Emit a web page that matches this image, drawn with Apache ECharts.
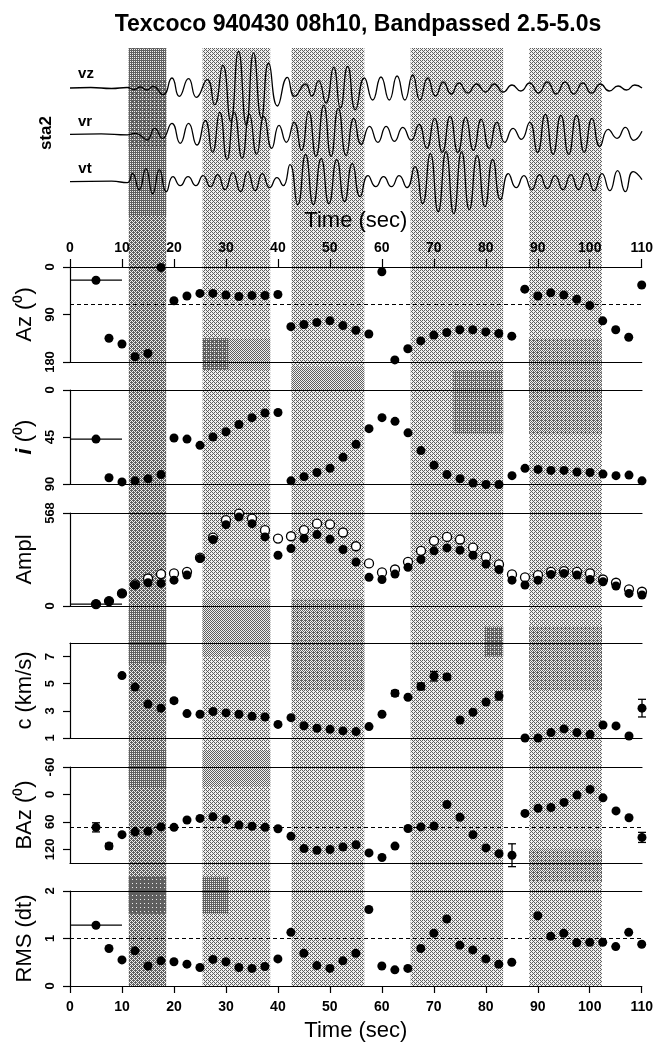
<!DOCTYPE html>
<html>
<head>
<meta charset="utf-8">
<script src="https://cdn.jsdelivr.net/npm/echarts@6/dist/echarts.min.js"></script>
<style>
  html, body { margin: 0; padding: 0; background: #fff; }
  #chart { width: 656px; height: 1046px; }
</style>
</head>
<body>
<div id="chart"></div>
<script>
// Sample times (s) of the particle-motion windows
const TIMES = [5, 7.5, 10, 12.5, 15, 17.5, 20, 22.5, 25, 27.5, 30, 32.5, 35, 37.5, 40, 42.5, 45, 47.5, 50, 52.5,
  55, 57.5, 60, 62.5, 65, 67.5, 70, 72.5, 75, 77.5, 80, 82.5, 85, 87.5, 90, 92.5, 95, 97.5, 100, 102.5, 105, 107.5, 110];

// Azimuth (deg)
const azValues = [25, 135, 146, 170, 164, 1, 64, 55, 50, 50, 53, 56, 54, 54, 52, 113, 109, 105, 102, 111,
  120, 127, 9, 176, 155, 140, 129, 124, 119, 119, 123, 126, 131, 42, 55, 49, 53, 61, 73, 102, 119, 133, 34];
// Incidence angle (deg)
const incValues = [47, 84, 88, 87, 85, 81, 46, 47, 53, 45, 40, 33, 26.5, 22, 21.5, 87, 83, 79, 75, 64.5,
  52, 37, 26.5, 30, 41, 58, 72, 81, 85, 89, 90.5, 90.5, 82, 75, 76, 77, 77, 78.5, 79, 80.5, 82, 81.5, 87];
// Amplitude: filled = measured, open = total
const amplFilled = [12, 30, 77, 128, 142, 138, 158, 189, 290, 406, 497, 544, 503, 422, 310, 351, 412, 436, 408, 345,
  268, 175, 162, 195, 236, 284, 337, 355, 341, 310, 256, 223, 158, 128, 158, 193, 199, 189, 162, 148, 122, 77, 67];
const amplOpen = [12, 30, 77, 132, 168, 195, 199, 209, 295, 418, 524, 564, 534, 463, 412, 426, 463, 503, 499, 449,
  365, 260, 205, 223, 270, 337, 398, 422, 406, 357, 300, 254, 193, 175, 189, 209, 213, 209, 199, 162, 142, 102, 87];
// Apparent velocity (km/s) and its uncertainty
const cValues = [null, null, 5.6, 4.75, 3.5, 3.2, 3.75, 2.8, 2.75, 2.95, 2.85, 2.75, 2.6, 2.55, 2.0, 2.5, 1.9, 1.72, 1.64, 1.52,
  1.47, 1.84, 2.75, 4.3, 4.0, 4.8, 5.55, 5.5, 2.33, 2.9, 3.65, 4.1, null, 1.0, 1.0, 1.4, 1.67, 1.4, 1.27, 1.96, 1.89, 1.15, 3.2];
const cErrors = [null, null, 0.12, null, null, null, 0.15, null, null, null, null, null, null, null, null, null, null, null, null, null,
  null, null, null, 0.2, null, 0.25, 0.35, 0.2, null, null, null, 0.3, null, null, null, null, null, null, null, null, null, null, 0.65];
// Back-azimuth (deg) and its uncertainty
const bazValues = [72, 113, 88, 82, 80.5, 71, 72, 56, 52.5, 49, 55, 67, 69.5, 72, 75, 91.5, 118.5, 122, 120.5, 115,
  110, 128, 138, 113, 74.5, 71, 69, 22, 50, 88, 117, 129.5, 133, 41.5, 30.5, 28.5, 17.5, 1.5, -11, 7.5, 36, 51, 94];
const bazErrors = [10, 6, null, null, null, null, null, null, null, null, null, null, null, null, null, null, null, null, null, null,
  null, null, null, null, null, null, null, null, null, null, null, null, 25, null, null, null, null, null, null, null, null, null, 11];
// RMS misfit (dt)
const rmsValues = [1.28, 0.79, 0.55, 0.74, 0.42, 0.53, 0.51, 0.46, 0.39, 0.56, 0.51, 0.39, 0.37, 0.41, 0.57, 1.13, 0.69, 0.43, 0.37, 0.53,
  0.69, 1.61, 0.42, 0.34, 0.37, 0.79, 1.11, 1.41, 0.86, 0.76, 0.57, 0.46, 0.5, null, 1.48, 1.05, 1.11, 0.91, 0.92, 0.92, 0.83, 1.13, 0.88];

// Span of the first (reference) window, seconds
const firstWindow = [0, 10];
// Reference levels
const azRef = 70, bazRef = 72, rmsRef = 1;

// Analysis windows (s) and their grey level
const windows = [[11.3, 18.5], [25.5, 38.5], [42.6, 56.6], [65.5, 83.3], [88.3, 102.3]];
const windowShade = [150, 190, 190, 190, 190];

// Darker spectral patches: [t0, t1, v0, v1, grey] in each panel's own units
const wavePatches = [[11.3, 18.5, 86, -81, 135], [11.3, 18.5, 54, -12, 120]];
const azPatches = [[25.5, 30.5, 135, 195, 118], [30.5, 38.5, 135, 195, 165],
  [42.6, 56.6, 190, 233, 168], [73.7, 83.3, 195, 233, 138], [88.3, 102.3, 135, 233, 160]];
const incPatches = [[73.7, 83.3, 0, 42, 138], [88.3, 102.3, 0, 42, 160]];
const cPatches = [[11.3, 18.5, 6.5, 10.5, 128], [25.5, 38.5, 7, 11.2, 165], [42.6, 56.6, 4.5, 11.2, 158],
  [79.8, 83.3, 7, 9.2, 122], [88.3, 102.3, 4.5, 9.2, 160]];
const bazPatches = [[11.3, 18.5, -97, -16, 128], [25.5, 38.5, -97, -16, 170], [88.3, 102.3, 120, 190, 155]];
const rmsPatches = [[11.3, 18.5, 1.52, 2.3, 100], [25.5, 30.5, 1.52, 2.3, 130]];

// Band-passed seismogram extrema [t, amplitude]
const vzTrace = [[0, 0], [4, 0.5], [8, -0.5], [11, 0.5], [12.3, -1.5], [13.5, 1], [14.8, -2], [16, 1.5], [17.9, -6.7], [19.6, 10],
  [21, -8.3], [22.8, 9.3], [24.3, -9.3], [26.4, 8.3], [27.8, -16.7], [29.4, 22.7], [30.9, -33], [32.4, 36.7], [33.9, -37], [35.3, 35],
  [36.8, -30], [38.2, 25], [39.9, -18], [41.8, 10.7], [43.2, -8.3], [45.3, 4], [46.5, -8], [47.8, 7.3], [49.2, -15], [50.7, 20.7],
  [52, -20], [53.4, 21.7], [54.9, -21.7], [56.6, 10], [58.2, -12], [59.8, 11], [61.4, -12], [62.9, 12], [64.4, -12], [65.9, 13],
  [67.3, -12], [68.8, 10], [70.3, -8], [71.8, 6], [73.3, -6], [74.8, 5], [76.5, -5], [78.2, 4], [79.9, -4], [81.6, 4], [83.3, -4],
  [85, 3], [86.7, -3], [88.4, 5], [90.1, -5], [91.8, 6], [93.5, -6], [95.2, 6], [96.9, -6], [98.6, 5], [100.3, -5], [102, 4],
  [103.7, -3], [105.4, 2], [107, -2], [108.6, 3], [110, 0]];
const vrTrace = [[0, 0], [6, 0.5], [11, -0.5], [12.5, 1], [13.5, -1], [14.8, -5.7], [16.3, 6], [17.8, -4], [19.6, 11], [21.2, -9],
  [22.8, 11], [24.4, -10.7], [26, 14], [27.4, -18], [28.8, 22], [30.2, -25], [31.6, 22], [33.1, -24], [34.5, 20], [35.9, -20],
  [37.3, 18], [38.8, -14], [40.2, 9], [41.6, -8], [43.1, 12], [44.5, -16], [45.9, 23], [47.3, -22], [48.8, 29], [50.2, -22],
  [51.6, 26], [53.1, -21], [54.6, 16], [56, -10], [57.6, 8], [59.2, -8], [60.8, 8], [62.4, -7], [64, 7], [65.6, -6], [67.1, 10],
  [68.6, -14], [70.1, 16], [71.6, -18], [73.1, 18], [74.6, -18], [76.1, 17], [77.6, -16], [79.1, 15], [80.6, -14], [82.1, 12],
  [83.6, -8], [85.2, 6], [86.8, -5], [88.4, 12], [89.9, -18], [91.4, 20], [92.9, -20], [94.4, 19], [95.9, -20], [97.4, 19],
  [98.9, -18], [100.4, 16], [101.9, -12], [103.5, 5], [105.2, -4], [106.8, 7], [108.4, -6], [110, 3]];
const vtTrace = [[0, 0], [8, 0.5], [11, -1], [12, 8], [13.3, -8], [14.6, 13], [15.9, -12], [17.2, 12], [18.5, -10], [19.8, 5],
  [21.2, -4], [22.7, 5], [24.2, -4], [25.6, 6], [27, -5], [28.4, 7], [29.8, -8], [31.3, 9], [32.8, -10], [34.2, 10], [35.6, -9],
  [37, 8], [38.4, -6], [39.8, 4], [41, -4], [42.3, 17], [43.8, -23], [45.3, 27], [46.8, -23], [48.3, 23], [49.8, -22], [51.3, 22],
  [52.8, -20], [54.3, 18], [55.8, -15], [57.3, 6], [58.8, -5], [60.3, 5], [61.8, -5], [63.3, 6], [64.8, -6], [66.3, 15], [67.8, -22],
  [69.3, 28], [70.8, -30], [72.3, 30], [73.8, -32], [75.3, 30], [76.8, -28], [78.3, 26], [79.8, -25], [81.3, 22], [82.8, -18],
  [84.3, 8], [85.8, -6], [87.3, 6], [88.8, -8], [90.3, 7], [91.8, -7], [93.3, 6], [94.8, -8], [96.3, 7], [97.8, -8], [99.3, 8],
  [100.8, -9], [102.3, 8], [103.8, -9], [105.3, 11], [106.8, -10], [108.3, 10], [110, 2]];

const xTicks = [0, 110, 10]; // min, max, step of the time axis

// ---------------------------------------------------------------------------
const FONT = "'Liberation Sans', Arial, Helvetica, sans-serif";
const LEFT = 70, RIGHT = 14;
const INK = '#000';

// ordered-dither halftone tile reproducing a given mean grey level
const BAYER = [0, 8, 2, 10, 12, 4, 14, 6, 3, 11, 1, 9, 15, 7, 13, 5];
function halftone(level) {
  const D = 95, Lt = 240;
  const f = Math.max(0, Math.min(1, (Lt - level) / (Lt - D)));
  const c = document.createElement('canvas');
  c.width = c.height = 4;
  const ctx = c.getContext('2d');
  for (let i = 0; i < 16; i++) {
    const g = (BAYER[i] + 0.5) / 16 < f ? D : Lt;
    ctx.fillStyle = 'rgb(' + g + ',' + g + ',' + g + ')';
    ctx.fillRect(i % 4, Math.floor(i / 4), 1, 1);
  }
  return { image: c, repeat: 'repeat' };
}

const panels = [
  { top: 267, height: 95, min: 0, max: 180, interval: 90, inverse: true, name: 'Az (⁰)' },
  { top: 390, height: 94, min: 0, max: 90, interval: 45, inverse: true, name: '{it|i} (⁰)' },
  { top: 513, height: 93, min: 0, max: 568, interval: 568, inverse: false, name: 'Ampl' },
  { top: 643, height: 95, min: 1, max: 8, interval: 2, inverse: false, name: 'c (km/s)', hideMax: true },
  { top: 767, height: 96, min: -60, max: 150, interval: 60, inverse: true, name: 'BAz (⁰)', hideMax: true },
  { top: 891, height: 95, min: 0, max: 2, interval: 1, inverse: false, name: 'RMS (dt)' }
];
const waveBase = [88, 134.3, 181.7];
const WAVE_HALF = 40;

const grid = [], xAxis = [], yAxis = [], series = [];

// background grid carrying the analysis windows
grid.push({ left: LEFT, right: RIGHT, top: 48, height: 939 });
xAxis.push({ gridIndex: 0, type: 'value', min: xTicks[0], max: xTicks[1], show: false });
yAxis.push({ gridIndex: 0, type: 'value', min: 0, max: 1, show: false });

// seismogram grids
waveBase.forEach((b, k) => {
  grid.push({ left: LEFT, right: RIGHT, top: b - WAVE_HALF, height: 2 * WAVE_HALF });
  xAxis.push({ gridIndex: k + 1, type: 'value', min: xTicks[0], max: xTicks[1], show: false });
  yAxis.push({ gridIndex: k + 1, type: 'value', min: -WAVE_HALF, max: WAVE_HALF, show: false });
});

const lineStyle = { color: INK, width: 1.2 };
const tickLabel = { color: INK, fontFamily: FONT, fontWeight: 'bold', fontSize: 14 };

panels.forEach((p, j) => {
  const gi = 4 + j;
  grid.push({ left: LEFT, right: RIGHT, top: p.top, height: p.height });
  const isFirst = j === 0, isLast = j === panels.length - 1;
  xAxis.push({
    gridIndex: gi, type: 'value', position: 'bottom', min: xTicks[0], max: xTicks[1], interval: xTicks[2], z: 5,
    axisLine: { show: true, onZero: false, lineStyle },
    axisTick: { show: isLast, length: 7, lineStyle },
    axisLabel: { show: isLast, margin: 14, ...tickLabel },
    splitLine: { show: false },
    name: isLast ? 'Time (sec)' : '', nameLocation: 'middle', nameGap: 34,
    nameTextStyle: { color: INK, fontFamily: FONT, fontSize: 22 }
  });
  xAxis.push({
    gridIndex: gi, type: 'value', position: 'top', min: xTicks[0], max: xTicks[1], interval: xTicks[2], z: 5,
    axisLine: { show: true, onZero: false, lineStyle },
    axisTick: { show: isFirst, length: 8, lineStyle },
    axisLabel: { show: isFirst, margin: 12, ...tickLabel },
    splitLine: { show: false },
    name: isFirst ? 'Time (sec)' : '', nameLocation: 'middle', nameGap: 35,
    nameTextStyle: { color: INK, fontFamily: FONT, fontSize: 22 }
  });
  yAxis.push({
    gridIndex: gi, type: 'value', min: p.min, max: p.max, interval: p.interval, inverse: p.inverse, z: 5,
    axisLine: { show: true, onZero: false, lineStyle },
    axisTick: { show: true, length: 7, lineStyle },
    axisLabel: { rotate: 90, margin: 13, color: INK, fontFamily: FONT, fontWeight: 'bold', fontSize: 13,
      showMaxLabel: !p.hideMax },
    splitLine: { show: false },
    name: p.name, nameLocation: 'middle', nameGap: 33, nameRotate: 90,
    nameTextStyle: { color: INK, fontFamily: FONT, fontSize: 22,
      rich: { it: { fontStyle: 'italic', fontWeight: 'bold', fontSize: 22, fontFamily: FONT, color: INK } } }
  });
});

const xB = (j) => 4 + 2 * j;  // bottom x axis index of panel j
const yP = (j) => 4 + j;      // y axis index of panel j

function patchSeries(list, xi, yi, z) {
  const fills = list.map(r => halftone(r[4]));
  return {
    type: 'custom', xAxisIndex: xi, yAxisIndex: yi, z: z == null ? 1 : z, clip: false, silent: true,
    data: list.map(r => r.slice(0, 4)),
    renderItem(params, api) {
      const a = api.coord([api.value(0), api.value(2)]);
      const b = api.coord([api.value(1), api.value(3)]);
      return {
        type: 'rect',
        shape: { x: Math.min(a[0], b[0]), y: Math.min(a[1], b[1]), width: Math.abs(b[0] - a[0]), height: Math.abs(b[1] - a[1]) },
        style: { fill: fills[params.dataIndex] }
      };
    }
  };
}

// analysis windows
series.push(patchSeries(windows.map((w, k) => [w[0], w[1], 0, 1, windowShade[k]]), 0, 0, 0));
series.push(patchSeries(wavePatches, 2, 2));
series.push(patchSeries(azPatches, xB(0), yP(0)));
series.push(patchSeries(incPatches, xB(1), yP(1)));
series.push(patchSeries(cPatches, xB(3), yP(3)));
series.push(patchSeries(bazPatches, xB(4), yP(4)));
series.push(patchSeries(rmsPatches, xB(5), yP(5)));

// seismograms
[vzTrace, vrTrace, vtTrace].forEach((tr, k) => {
  series.push({
    type: 'line', xAxisIndex: k + 1, yAxisIndex: k + 1, data: tr, smooth: 0.55, showSymbol: false, clip: false,
    lineStyle: { color: INK, width: 1.3 }, z: 10, silent: true
  });
});

const pairs = (vals) => TIMES.map((t, i) => (vals[i] == null ? null : [t, vals[i]])).filter(Boolean);

function dots(j, vals, open) {
  return {
    type: 'scatter', xAxisIndex: xB(j), yAxisIndex: yP(j), data: pairs(vals), symbolSize: 9, clip: false, z: open ? 8 : 10,
    itemStyle: open ? { color: '#fff', borderColor: INK, borderWidth: 1.3, opacity: 1 } : { color: INK, opacity: 1 },
    silent: true
  };
}
function refLine(j, v) {
  return {
    type: 'line', xAxisIndex: xB(j), yAxisIndex: yP(j), data: [], z: 6, silent: true,
    markLine: { silent: true, symbol: 'none', label: { show: false },
      lineStyle: { color: INK, width: 1, type: [4, 3] }, data: [{ yAxis: v }] }
  };
}
// vertical error bars [t, v, err]
function vErr(j, vals, errs) {
  const data = [];
  TIMES.forEach((t, i) => { if (vals[i] != null && errs[i] != null) data.push([t, vals[i], errs[i]]); });
  return {
    type: 'custom', xAxisIndex: xB(j), yAxisIndex: yP(j), z: 9, clip: false, silent: true, data,
    renderItem(params, api) {
      const t = api.value(0), v = api.value(1), e = api.value(2);
      const lo = api.coord([t, v - e]), hi = api.coord([t, v + e]);
      const cap = 4, st = { stroke: INK, lineWidth: 1.3 };
      return {
        type: 'group', children: [
          { type: 'line', shape: { x1: lo[0], y1: lo[1], x2: hi[0], y2: hi[1] }, style: st },
          { type: 'line', shape: { x1: lo[0] - cap, y1: lo[1], x2: lo[0] + cap, y2: lo[1] }, style: st },
          { type: 'line', shape: { x1: hi[0] - cap, y1: hi[1], x2: hi[0] + cap, y2: hi[1] }, style: st }
        ]
      };
    }
  };
}
// horizontal bar showing the first window's span
function hSpan(j, v) {
  return {
    type: 'custom', xAxisIndex: xB(j), yAxisIndex: yP(j), z: 9, clip: false, silent: true,
    data: [[firstWindow[0], firstWindow[1], v]],
    renderItem(params, api) {
      const a = api.coord([api.value(0), api.value(2)]), b = api.coord([api.value(1), api.value(2)]);
      return { type: 'line', shape: { x1: a[0], y1: a[1], x2: b[0], y2: b[1] }, style: { stroke: INK, lineWidth: 1.3 } };
    }
  };
}

series.push(refLine(0, azRef), hSpan(0, azValues[0]), dots(0, azValues));
series.push(hSpan(1, incValues[0]), dots(1, incValues));
series.push(hSpan(2, amplFilled[0]), dots(2, amplOpen, true), dots(2, amplFilled));
series.push(vErr(3, cValues, cErrors), dots(3, cValues));
series.push(refLine(4, bazRef), vErr(4, bazValues, bazErrors), dots(4, bazValues));
series.push(refLine(5, rmsRef), hSpan(5, rmsValues[0]), dots(5, rmsValues));

const label = (text, x, y, size, rot) => ({
  type: 'text', x, y, z: 20, rotation: rot || 0,
  style: { text, fontFamily: FONT, fontWeight: 'bold', fontSize: size, fill: INK, align: 'center', verticalAlign: 'middle' }
});
const graphic = [
  label('Texcoco 940430 08h10, Bandpassed 2.5-5.0s', 358, 25, 23),
  label('vz', 86, 74, 15),
  label('vr', 85, 122, 15),
  label('vt', 85, 169, 15),
  label('sta2', 46, 133, 17, Math.PI / 2)
];

const chart = echarts.init(document.getElementById('chart'), null, { renderer: 'canvas' });
chart.setOption({
  animation: false,
  backgroundColor: '#fff',
  grid, xAxis, yAxis, series, graphic
});
</script>
</body>
</html>
